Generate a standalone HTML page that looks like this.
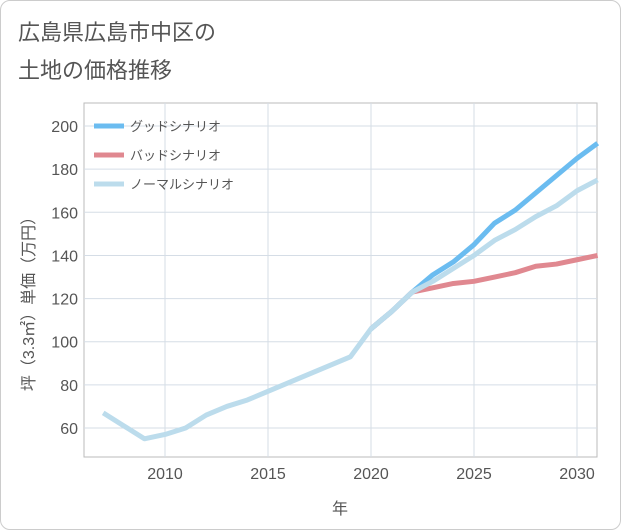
<!DOCTYPE html>
<html><head><meta charset="utf-8"><style>
body{margin:0;background:#fff;font-family:"Liberation Sans","Noto Sans CJK JP",sans-serif;}
#card{position:absolute;left:0;top:0;width:619px;height:528px;border:1px solid #ccc;border-radius:10px;background:#fff;}
svg text{font-family:"Liberation Sans","Noto Sans CJK JP",sans-serif;}
</style></head><body>
<div id="card"></div>
<svg id="chart" width="621" height="530" style="position:absolute;left:0;top:0">
<text x="18" y="40" font-size="22" fill="#555">広島県広島市中区の</text>
<text x="18" y="78" font-size="22" fill="#555">土地の価格推移</text>
<g id="grid"></g><g id="series"></g><g id="axes"></g><g id="legend"></g>
</svg>
<script>
const years=[2020,2021,2022,2023,2024,2025,2026,2027,2028,2029,2030,2031];
const normalYears=[2007,2008,2009,2010,2011,2012,2013,2014,2015,2016,2017,2018,2019,2020,2021,2022,2023,2024,2025,2026,2027,2028,2029,2030,2031];
const normalVals=[67,61,55,57,60,66,70,73,77,81,85,89,93,106,114,123,128,134,140,147,152,158,163,170,175];
const goodVals=[106,114,123,131,137,145,155,161,169,177,185,192];
const badVals=[106,114,123,125,127,128,130,132,135,136,138,140];
const xTicks=[2010,2015,2020,2025,2030];
const yTicks=[60,80,100,120,140,160,180,200];
const L=84,R=597,T=103,B=457;
const x=v=>165+(v-2010)*20.6;
const y=v=>428-(v-60)*2.157;
const NS='http://www.w3.org/2000/svg';
function mk(tag,attrs,parent){const e=document.createElementNS(NS,tag);for(const k in attrs)e.setAttribute(k,attrs[k]);parent.appendChild(e);return e;}
const grid=document.getElementById('grid'),axes=document.getElementById('axes'),ser=document.getElementById('series'),leg=document.getElementById('legend');
const bg=mk('rect',{x:L,y:T,width:R-L,height:B-T,fill:'#fff',stroke:'#bbb'},grid);


yTicks.forEach(v=>{
 const l=mk('line',{x1:L,x2:R,y1:y(v),y2:y(v),stroke:'#d5dde6'},grid);
 
 
 const t=mk('text',{x:L-6,y:y(v)+6,'text-anchor':'end','font-size':16,fill:'#555'},axes);
 t.textContent=v;
 
 
});
xTicks.forEach(v=>{
 const l=mk('line',{x1:x(v),x2:x(v),y1:T,y2:B,stroke:'#d5dde6'},grid);
 
 
 const t=mk('text',{x:x(v),y:B+22,'text-anchor':'middle','font-size':16,fill:'#555'},axes);
 t.textContent=v;
 
 
});
const xt=mk('text',{x:340,y:514,'text-anchor':'middle','font-size':16,fill:'#555'},axes);
xt.textContent='年';


const yt=mk('text',{x:0,y:0,'text-anchor':'middle','font-size':16,fill:'#555',transform:'translate(34,300) rotate(-90)'},axes);
yt.textContent='坪（3.3㎡）単価（万円）';


function line(xs,vs,color,name){
 const p=mk('polyline',{points:xs.map((yr,i)=>x(yr)+','+y(vs[i])).join(' '),fill:'none',stroke:color,'stroke-width':5,'stroke-linejoin':'round'},ser);
 
 
}
line(years,badVals,'#e08890','bad-scenario-line');
line(years,goodVals,'#6bbcf0','good-scenario-line');
line(normalYears,normalVals,'#bcdcec','normal-scenario-line');
[['グッドシナリオ','#6bbcf0'],['バッドシナリオ','#e08890'],['ノーマルシナリオ','#bcdcec']].forEach((d,i)=>{
 const yy=126+i*29;
 const l=mk('line',{x1:94,x2:124,y1:yy,y2:yy,stroke:d[1],'stroke-width':5},leg);
 
 
 const t=mk('text',{x:130,y:yy+5,'font-size':13,fill:'#555'},leg);
 t.textContent=d[0];
 
 
});
</script>
</body></html>
